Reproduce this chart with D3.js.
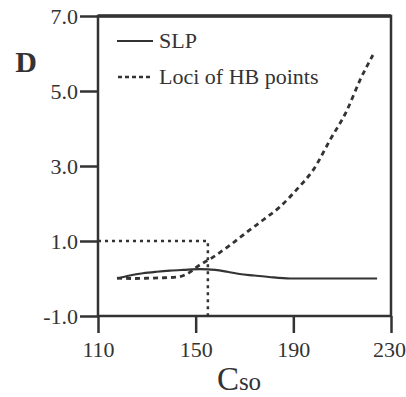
<!DOCTYPE html>
<html>
<head>
<meta charset="utf-8">
<style>
  body { margin: 0; background: #fff; }
  svg { display: block; }
  .chart text { font-family: "Liberation Serif", "Times New Roman", serif; fill: #333; }
  .axis text { font-size: 22px; }
  .axis line, .axis path { stroke: #333; stroke-width: 2.5; }
</style>
</head>
<body>
<svg class="chart" width="406" height="397"></svg>
<script src="https://d3js.org/d3.v7.min.js"></script>
<script>
// SLP curve
var slpC = [117.8, 123, 128.4, 134, 139.5, 145, 151.8, 158, 163, 168, 174, 180, 188.6, 200, 212, 224.3];
var slpD = [0.0, 0.08, 0.14, 0.18, 0.21, 0.23, 0.25, 0.23, 0.18, 0.12, 0.08, 0.04, 0.0, 0.0, 0.0, 0.0];

// loci of HB points
var hbC = [117.8, 125, 131.3, 137, 142.8, 147.7, 150.5, 157.1, 164.1, 171.0, 177.6, 184.5, 191.9, 198.1, 205.0, 212.0, 217.3, 222.6];
var hbD = [0.01, 0.0, 0.01, 0.02, 0.04, 0.17, 0.31, 0.57, 0.89, 1.24, 1.56, 1.91, 2.41, 2.89, 3.69, 4.49, 5.29, 5.96];

// dotted marker
var markC = [110, 155, 155];
var markD = [1.0, 1.0, -1.0];

var xTicks = [110, 150, 190, 230];
var yTicks = [-1, 1, 3, 5, 7];

var svg = d3.select('.chart');

var x = d3.scaleLinear().domain([110, 230]).range([98, 391]);
var y = d3.scaleLinear().domain([-1, 7]).range([316, 16]);

var line = d3.line()
    .x(function(d) { return x(d[0]); })
    .y(function(d) { return y(d[1]); });

// frame
svg.append('rect')
    .attr('x', x(110)).attr('y', y(7))
    .attr('width', x(230) - x(110)).attr('height', y(-1) - y(7))
    .attr('fill', 'none').attr('stroke', '#333').attr('stroke-width', 2.5);
svg.append('line')
    .attr('x1', x(110)).attr('x2', x(230))
    .attr('y1', y(7)).attr('y2', y(7))
    .attr('stroke', '#333').attr('stroke-width', 3.5);

var xAxis = svg.append('g').attr('class', 'axis')
    .attr('transform', 'translate(0,' + y(-1) + ')')
    .call(d3.axisBottom(x).tickValues(xTicks).tickSize(17).tickPadding(8).tickFormat(d3.format('d')))
    .call(function(g) { g.select('.domain').remove(); });
// keep the last label inside the window
xAxis.selectAll('.tick text').filter(function(d) { return d === 230; }).attr('dx', -2);

svg.append('g').attr('class', 'axis')
    .attr('transform', 'translate(' + x(110) + ',0)')
    .call(d3.axisLeft(y).tickValues(yTicks).tickSize(18).tickPadding(2)
        .tickFormat(function(d) { return d.toFixed(1); }))
    .call(function(g) { g.select('.domain').remove(); });

svg.selectAll('.axis text').attr('fill', '#333');

// dotted marker
svg.append('path')
    .datum(markC.map(function(c, i) { return [c, markD[i]]; }))
    .attr('d', line.curve(d3.curveLinear))
    .attr('fill', 'none').attr('stroke', '#333')
    .attr('stroke-width', 2.5).attr('stroke-dasharray', '3,4');

// HB loci
svg.append('path')
    .datum(hbC.map(function(c, i) { return [c, hbD[i]]; }))
    .attr('d', line.curve(d3.curveMonotoneX))
    .attr('fill', 'none').attr('stroke', '#333')
    .attr('stroke-width', 2.8).attr('stroke-dasharray', '5,4');

// SLP
svg.append('path')
    .datum(slpC.map(function(c, i) { return [c, slpD[i]]; }))
    .attr('d', line.curve(d3.curveMonotoneX))
    .attr('fill', 'none').attr('stroke', '#333')
    .attr('stroke-width', 2.2);

// legend
var legend = svg.append('g');
legend.append('line')
    .attr('x1', 117).attr('x2', 153).attr('y1', 41).attr('y2', 41)
    .attr('stroke', '#333').attr('stroke-width', 2.2);
legend.append('text').attr('x', 159).attr('y', 48)
    .style('font-size', '22px').text('SLP');
legend.append('line')
    .attr('x1', 118).attr('x2', 153).attr('y1', 77).attr('y2', 77)
    .attr('stroke', '#333').attr('stroke-width', 2.5).attr('stroke-dasharray', '4,3');
legend.append('text').attr('x', 159).attr('y', 84)
    .style('font-size', '22px').text('Loci of HB points');

// axis titles
svg.append('text').attr('x', 26).attr('y', 72)
    .attr('text-anchor', 'middle')
    .style('font-size', '30px').style('font-weight', 'bold').text('D');

var xt = svg.append('text').attr('x', 239).attr('y', 390).attr('text-anchor', 'middle');
xt.append('tspan').style('font-size', '33px').text('C');
xt.append('tspan').style('font-size', '25px').text('so');
</script>
</body>
</html>
